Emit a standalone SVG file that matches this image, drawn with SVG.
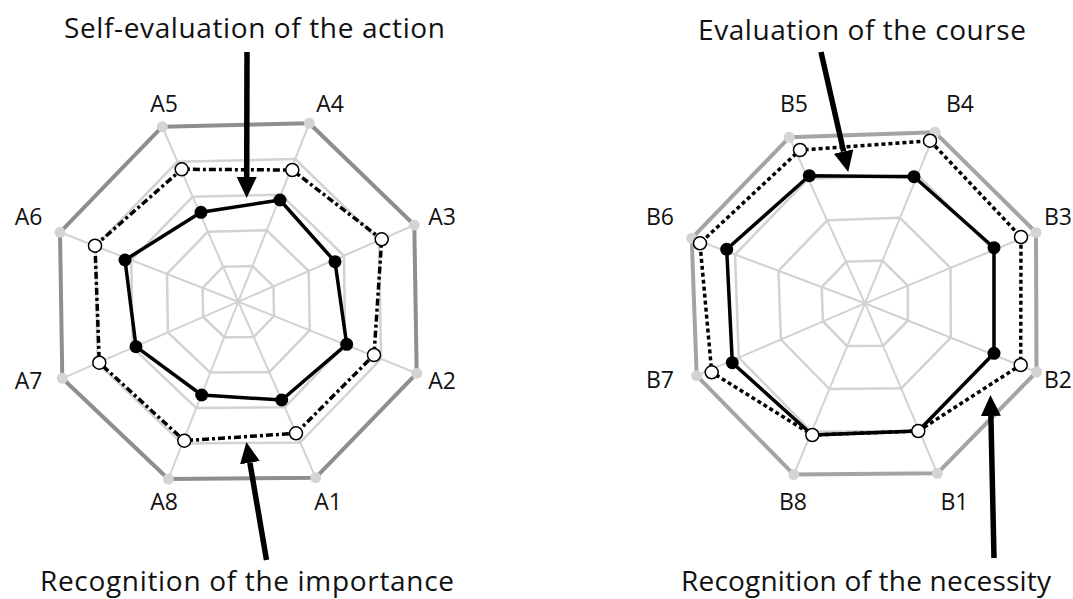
<svg xmlns="http://www.w3.org/2000/svg" width="1073" height="599" viewBox="0 0 1073 599">
  <style>
    .title { font-family: "Open Sans", "DejaVu Sans", sans-serif; font-size: 28px; fill: #111; }
    .axis { font-family: "Open Sans", "DejaVu Sans", sans-serif; font-size: 23px; fill: #111; text-anchor: middle; }
    .web { fill: none; stroke: #d2d2d2; stroke-width: 2.5; stroke-linejoin: round; }
    .spoke { fill: none; stroke: #d2d2d2; stroke-width: 2; }
    .rim { fill: none; stroke: #8e8e8e; stroke-width: 4; stroke-linejoin: round; }
    .rimR { fill: none; stroke: #a4a4a4; stroke-width: 4; stroke-linejoin: round; }
    .tick { fill: #d4d4d4; }
    .solid { fill: none; stroke: #000; stroke-width: 3.5; stroke-linejoin: round; }
    .dashA { fill: none; stroke: #000; stroke-width: 3.5; stroke-dasharray: 7 3 3 3; }
    .dashB { fill: none; stroke: #000; stroke-width: 3.5; stroke-dasharray: 4 3; }
    .dot { fill: #000; }
    .ring { fill: #fff; stroke: #000; stroke-width: 1.5; }
    .arrow { fill: none; stroke: #000; stroke-width: 5.5; marker-end: url(#head); }
  </style>
  <defs>
    <marker id="head" markerUnits="userSpaceOnUse" markerWidth="22" markerHeight="22" refX="0" refY="10" orient="auto">
      <path d="M0,0 L21,10 L0,20 Z" fill="#000"/>
    </marker>
  </defs>

  <rect width="1073" height="599" fill="#fff"/>

  <!-- Chart A: importance vs. self-evaluation -->
  <g id="chartA">
    <path class="spoke" d="M238.3,301.7 L315.7,477.7 M238.3,301.7 L416.7,373.3 M238.3,301.7 L414.3,225 M238.3,301.7 L309.3,123.3 M238.3,301.7 L162.3,126.7 M238.3,301.7 L60,232.3 M238.3,301.7 L62.3,378.3 M238.3,301.7 L168.3,479"/>
    <polygon class="web" points="253.8,336.9 274,316 273.5,286.4 252.5,266 223.1,266.7 202.6,287.8 203.1,317 224.3,337.2"/>
    <polygon class="web" points="269.3,372.1 309.7,330.3 308.7,271 266.7,230.3 207.9,231.7 167,273.9 167.9,332.3 210.3,372.6"/>
    <polygon class="web" points="284.7,407.3 345.3,344.7 343.9,255.7 280.9,194.7 192.7,196.7 131.3,260.1 132.7,347.7 196.3,408.1"/>
    <polygon class="web" points="300.2,442.5 381,359 379.1,240.3 295.1,159 177.5,161.7 95.7,246.2 97.5,363 182.3,443.5"/>
    <polygon class="rim" points="315.7,477.7 416.7,373.3 414.3,225 309.3,123.3 162.3,126.7 60,232.3 62.3,378.3 168.3,479"/>
    <g class="tick">
      <circle cx="315.7" cy="477.7" r="5.5"/><circle cx="416.7" cy="373.3" r="5.5"/>
      <circle cx="414.3" cy="225" r="5.5"/><circle cx="309.3" cy="123.3" r="5.5"/>
      <circle cx="162.3" cy="126.7" r="5.5"/><circle cx="60" cy="232.3" r="5.5"/>
      <circle cx="62.3" cy="378.3" r="5.5"/><circle cx="168.3" cy="479" r="5.5"/>
    </g>
    <!-- self-evaluation series -->
    <polygon class="solid" points="281.7,400 346.7,344.3 335,261.7 280,200 201,212.3 125,260 136,346.7 201.7,395"/>
    <g class="dot">
      <circle cx="281.7" cy="400" r="6.5"/><circle cx="346.7" cy="344.3" r="6.5"/>
      <circle cx="335" cy="261.7" r="6.5"/><circle cx="280" cy="200" r="6.5"/>
      <circle cx="201" cy="212.3" r="6.5"/><circle cx="125" cy="260" r="6.5"/>
      <circle cx="136" cy="346.7" r="6.5"/><circle cx="201.7" cy="395" r="6.5"/>
    </g>
    <!-- importance series -->
    <polygon class="dashA" points="296,433.3 374,355 381.7,239.3 292.3,170 181.7,169.3 95,245.7 99.3,362.7 184.3,440.7"/>
    <g class="ring">
      <circle cx="296" cy="433.3" r="6.5"/><circle cx="374" cy="355" r="6.5"/>
      <circle cx="381.7" cy="239.3" r="6.5"/><circle cx="292.3" cy="170" r="6.5"/>
      <circle cx="181.7" cy="169.3" r="6.5"/><circle cx="95" cy="245.7" r="6.5"/>
      <circle cx="99.3" cy="362.7" r="6.5"/><circle cx="184.3" cy="440.7" r="6.5"/>
    </g>
    <text class="axis" x="328" y="510">A1</text>
    <text class="axis" x="442" y="389">A2</text>
    <text class="axis" x="442" y="225">A3</text>
    <text class="axis" x="330" y="112">A4</text>
    <text class="axis" x="164" y="112">A5</text>
    <text class="axis" x="28.5" y="225">A6</text>
    <text class="axis" x="28.5" y="389">A7</text>
    <text class="axis" x="164" y="510">A8</text>
  </g>

  <!-- Chart B: necessity vs. course evaluation -->
  <g id="chartB">
    <path class="spoke" d="M865,303.3 L937.3,473.3 M865,303.3 L1036.5,372 M865,303.3 L1036,232.5 M865,303.3 L935,132.3 M865,303.3 L789.3,137.3 M865,303.3 L691.7,238.3 M865,303.3 L696.7,375.7 M865,303.3 L793.8,474.6"/>
    <polygon class="web" points="883.1,345.8 907.9,320.5 907.8,285.6 882.5,260.6 846.1,261.8 821.7,287.1 822.9,321.4 847.2,346.1"/>
    <polygon class="web" points="901.2,388.3 950.8,337.7 950.5,267.9 900,217.8 827.2,220.3 778.4,270.8 780.9,339.5 829.4,389"/>
    <polygon class="web" points="919.2,430.8 993.6,354.8 993.3,250.2 917.5,175.1 808.2,178.8 735,254.6 738.8,357.6 811.6,431.8"/>
    <polygon class="rimR" points="937.3,473.3 1036.5,372 1036,232.5 935,132.3 789.3,137.3 691.7,238.3 696.7,375.7 793.8,474.6"/>
    <g class="tick">
      <circle cx="937.3" cy="473.3" r="5.5"/><circle cx="1036.5" cy="372" r="5.5"/>
      <circle cx="1036" cy="232.5" r="5.5"/><circle cx="935" cy="132.3" r="5.5"/>
      <circle cx="789.3" cy="137.3" r="5.5"/><circle cx="691.7" cy="238.3" r="5.5"/>
      <circle cx="696.7" cy="375.7" r="5.5"/><circle cx="793.8" cy="474.6" r="5.5"/>
    </g>
    <!-- course evaluation series -->
    <polygon class="solid" points="918.3,431 994,353.3 994,247.7 914,176.7 809.3,175.7 726.7,249.3 732.3,362.7 812.3,435"/>
    <g class="dot">
      <circle cx="994" cy="353.3" r="6.5"/><circle cx="994" cy="247.7" r="6.5"/>
      <circle cx="914" cy="176.7" r="6.5"/><circle cx="809.3" cy="175.7" r="6.5"/>
      <circle cx="726.7" cy="249.3" r="6.5"/><circle cx="732.3" cy="362.7" r="6.5"/>
    </g>
    <!-- necessity series -->
    <polygon class="dashB" points="918.3,431 1020.7,365 1021,237 930,140.7 800,150 700,243.3 711.7,372.3 812.3,435"/>
    <g class="ring">
      <circle cx="918.3" cy="431" r="6.5"/><circle cx="1020.7" cy="365" r="6.5"/>
      <circle cx="1021" cy="237" r="6.5"/><circle cx="930" cy="140.7" r="6.5"/>
      <circle cx="800" cy="150" r="6.5"/><circle cx="700" cy="243.3" r="6.5"/>
      <circle cx="711.7" cy="372.3" r="6.5"/><circle cx="812.3" cy="435" r="6.5"/>
    </g>
    <text class="axis" x="954.5" y="510">B1</text>
    <text class="axis" x="1058" y="388">B2</text>
    <text class="axis" x="1058" y="225">B3</text>
    <text class="axis" x="960" y="112">B4</text>
    <text class="axis" x="794" y="112">B5</text>
    <text class="axis" x="660" y="225">B6</text>
    <text class="axis" x="660" y="388">B7</text>
    <text class="axis" x="793" y="510">B8</text>
  </g>

  <!-- series captions -->
  <g id="label-self-evaluation">
    <text class="title" x="64" y="38" textLength="381" lengthAdjust="spacing">Self-evaluation of the action</text>
  </g>
  <g id="label-importance">
    <text class="title" x="40" y="591" textLength="414" lengthAdjust="spacing">Recognition of the importance</text>
  </g>
  <g id="label-course">
    <text class="title" x="698" y="40" textLength="328" lengthAdjust="spacing">Evaluation of the course</text>
  </g>
  <g id="label-necessity">
    <text class="title" x="681" y="591" textLength="370" lengthAdjust="spacing">Recognition of the necessity</text>
  </g>

  <!-- pointer arrows from captions to series -->
  <g id="connectors">
    <path class="arrow" d="M247,52 L246.7,177"/>
    <path class="arrow" d="M266.5,560 L249.9,462.7"/>
    <path class="arrow" d="M821,52 L843.6,151.5"/>
    <path class="arrow" d="M994,558 L990.9,416"/>
  </g>
</svg>
